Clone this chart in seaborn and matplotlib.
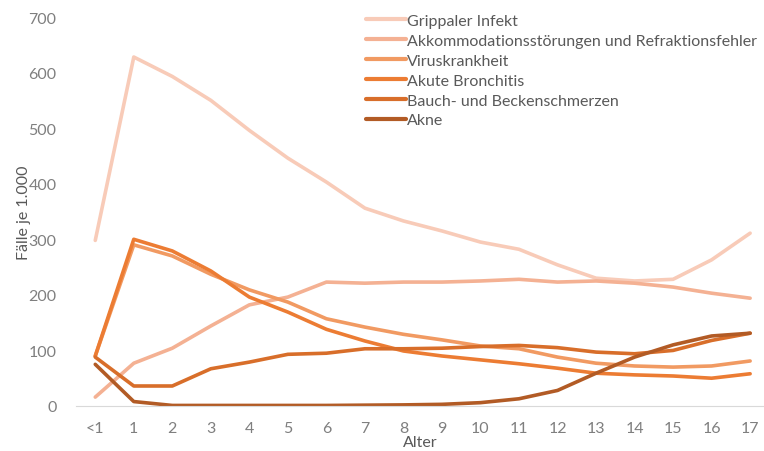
import pandas as pd
import seaborn as sns
import matplotlib.pyplot as plt

ages = ["<1", "1", "2", "3", "4", "5", "6", "7", "8", "9", "10", "11", "12", "13", "14", "15", "16", "17"]

grippaler_infekt = [298, 628, 593, 550, 496, 446, 403, 356, 333, 315, 295, 282, 254, 230, 225, 228, 263, 311]
akkommodation = [16, 77, 104, 144, 182, 196, 223, 221, 223, 223, 225, 228, 223, 225, 221, 214, 203, 194]
viruskrankheit = [90, 290, 270, 237, 209, 187, 157, 142, 129, 119, 108, 103, 88, 77, 72, 70, 72, 81]
akute_bronchitis = [90, 300, 279, 243, 196, 169, 138, 117, 99, 90, 83, 76, 68, 59, 56, 54, 50, 58]
bauchschmerzen = [88, 36, 36, 67, 79, 93, 95, 103, 103, 104, 107, 109, 105, 97, 94, 100, 118, 131]
akne = [75, 8, 1, 1, 1, 1, 1, 1.5, 2, 3, 6, 13, 28, 59, 88, 110, 126, 131]

series = {
    "Grippaler Infekt": grippaler_infekt,
    "Akkommodationsstörungen und Refraktionsfehler": akkommodation,
    "Viruskrankheit": viruskrankheit,
    "Akute Bronchitis": akute_bronchitis,
    "Bauch- und Beckenschmerzen": bauchschmerzen,
    "Akne": akne,
}
colors = ["#F8CBB8", "#F4B193", "#F19A62", "#EC7C33", "#D86E2A", "#B25B25"]

rows = []
for name, vals in series.items():
    for i, v in enumerate(vals):
        rows.append({"pos": i, "Alter": ages[i], "Fälle": v, "Diagnose": name})
df = pd.DataFrame(rows)

sns.set_style("white")
plt.rcParams["font.family"] = ["Lato", "DejaVu Sans"]

fig = plt.figure(figsize=(7.64, 4.52), dpi=100)
ax = fig.add_axes([76 / 764, 1 - 407 / 452, 688 / 764, 389 / 452])

sns.lineplot(data=df, x="pos", y="Fälle", hue="Diagnose", palette=colors,
             linewidth=2.6, ax=ax, solid_capstyle="round")

ax.set_xlim(-0.5, 17.36)
ax.set_ylim(0, 700)
ax.set_xticks(range(len(ages)))
ax.set_xticklabels(ages)
ax.set_yticks(range(0, 701, 100))
ax.tick_params(colors="#7F7F7F", labelsize=11.5, length=0)
ax.tick_params(axis="x", pad=11)
ax.tick_params(axis="y", pad=14)
for s in ["top", "right", "left"]:
    ax.spines[s].set_visible(False)
ax.spines["bottom"].set_color("#D9D9D9")
ax.set_xlabel("Alter", color="#595959", fontsize=11.5, labelpad=0)
ax.set_ylabel("Fälle je 1.000", color="#595959", fontsize=11.5, labelpad=-2)

leg = ax.legend(loc="upper left", bbox_to_anchor=(0.412, 1.025), frameon=False,
                fontsize=11.5, labelcolor="#595959", handlelength=2.5,
                handletextpad=0.1, labelspacing=0.36, borderaxespad=0)
for line in leg.get_lines():
    line.set_linewidth(3)

fig.savefig("out.png", dpi=100)
